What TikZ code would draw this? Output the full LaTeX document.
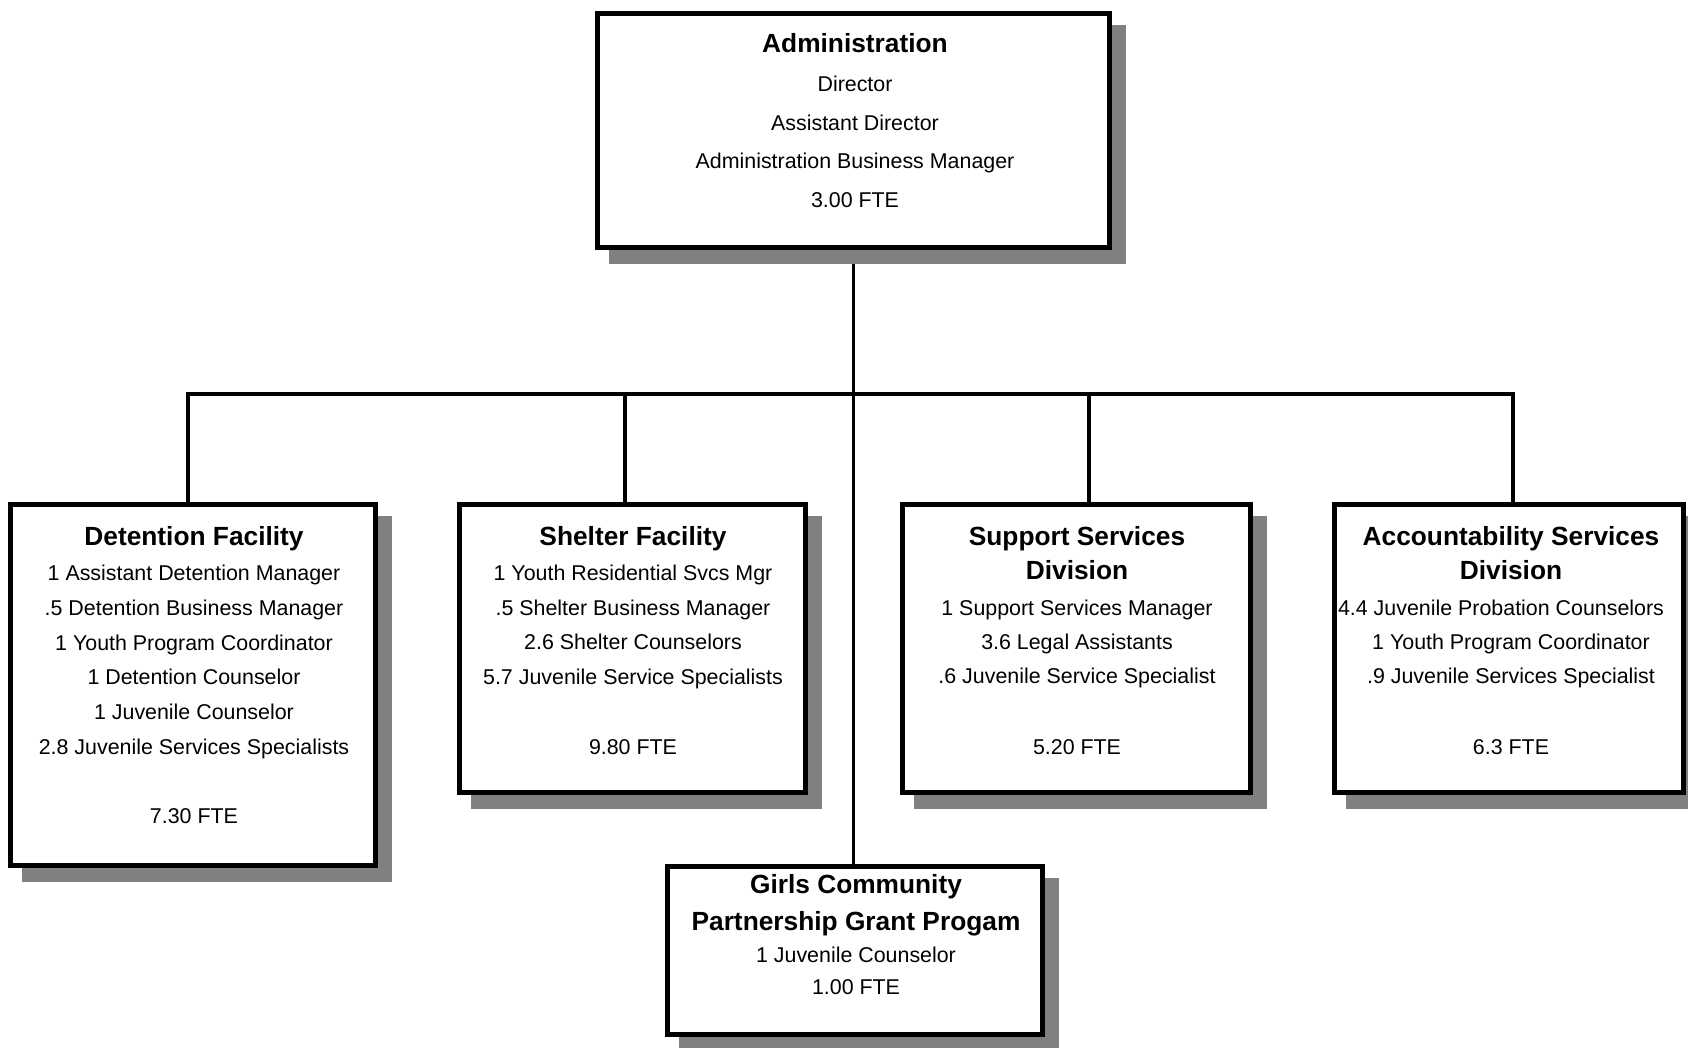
\documentclass[tikz,border=0pt]{standalone}
\usepackage{fontspec}
\setmainfont{Liberation Sans}
\definecolor{shadowgray}{HTML}{808080}
\pgfdeclarelayer{bg}
\pgfsetlayers{bg,main}
\tikzset{
  orgbox/.style={rectangle, draw=black, fill=white, line width=5pt, inner sep=0pt, outer sep=0pt},
  shadowbox/.style={fill=shadowgray, draw=shadowgray, line width=5pt},
  conn/.style={draw=black, line width=3.2pt},
  ttl/.style={font=\fontsize{26.3}{30}\selectfont\bfseries, anchor=base, inner sep=0pt},
  bdy/.style={font=\fontsize{21.4}{25}\selectfont, anchor=base, inner sep=0pt},
}
\begin{document}
\begin{tikzpicture}[x=1pt,y=-1pt]
\useasboundingbox (0,0) rectangle (1688,1047);

% boxes
\node[orgbox, minimum width=512pt, minimum height=234pt] (adm) at (853.5,130.5) {};
\node[orgbox, minimum width=365pt, minimum height=361pt] (det) at (193,685) {};
\node[orgbox, minimum width=346pt, minimum height=288pt] (shel) at (632.5,648.5) {};
\node[orgbox, minimum width=348pt, minimum height=288pt] (sup) at (1076.5,648.5) {};
\node[orgbox, minimum width=349pt, minimum height=288pt] (acc) at (1509,648.5) {};
\node[orgbox, minimum width=375pt, minimum height=168pt] (girls) at (855,950.5) {};

\begin{pgfonlayer}{bg}
  % connectors
  \coordinate (busL) at (188,394);
  \coordinate (busR) at (1513,394);
  \coordinate (jS) at (625,394);
  \coordinate (jP) at (1089,394);
  \draw[conn] (adm.south) -- (adm.south |- girls.north);
  \draw[conn, line join=miter] (busL |- det.north) -- (busL) -- (busR) -- (busR |- acc.north);
  \draw[conn] (jS) -- (jS |- shel.north);
  \draw[conn] (jP) -- (jP |- sup.north);
  % shadows
  \foreach \b in {adm,det,shel,sup,acc,girls}
    \path[shadowbox] ([shift={(14,14)}]\b.north west) rectangle ([shift={(14,14)}]\b.south east);
\end{pgfonlayer}

% Administration
\node[ttl] (adm-t) at (855,52.5) {Administration};
\node[bdy] (adm-1) at (855,91.7) {Director};
\node[bdy] (adm-2) at (855,130.7) {Assistant Director};
\node[bdy] (adm-3) at (855,168.7) {Administration Business Manager};
\node[bdy] (adm-4) at (855,207.7) {3.00 FTE};

% Detention
\node[ttl] (det-t) at (194,545.5) {Detention Facility};
\node[bdy] (det-1) at (194,580) {1 Assistant Detention Manager};
\node[bdy] (det-2) at (194,615) {.5 Detention Business Manager};
\node[bdy] (det-3) at (194,650) {1 Youth Program Coordinator};
\node[bdy] (det-4) at (194,684) {1 Detention Counselor};
\node[bdy] (det-5) at (194,719) {1 Juvenile Counselor};
\node[bdy] (det-6) at (194,754) {2.8 Juvenile Services Specialists};
\node[bdy] (det-7) at (194,823) {7.30 FTE};

% Shelter
\node[ttl] (shel-t) at (633,545.5) {Shelter Facility};
\node[bdy] (shel-1) at (633,580) {1 Youth Residential Svcs Mgr};
\node[bdy] (shel-2) at (633,615) {.5 Shelter Business Manager};
\node[bdy] (shel-3) at (633,649) {2.6 Shelter Counselors};
\node[bdy] (shel-4) at (633,684) {5.7 Juvenile Service Specialists};
\node[bdy] (shel-5) at (633,754) {9.80 FTE};

% Support
\node[ttl] (sup-t1) at (1077,545.5) {Support Services};
\node[ttl] (sup-t2) at (1077,579.5) {Division};
\node[bdy] (sup-1) at (1077,615) {1 Support Services Manager};
\node[bdy] (sup-2) at (1077,649) {3.6 Legal Assistants};
\node[bdy] (sup-3) at (1077,683) {.6 Juvenile Service Specialist};
\node[bdy] (sup-4) at (1077,754) {5.20 FTE};

% Accountability
\node[ttl] (acc-t1) at (1511,545.5) {Accountability Services};
\node[ttl] (acc-t2) at (1511,579.5) {Division};
\node[bdy] (acc-1) at (1501,615) {4.4 Juvenile Probation Counselors};
\node[bdy] (acc-2) at (1511,649) {1 Youth Program Coordinator};
\node[bdy] (acc-3) at (1511,683) {.9 Juvenile Services Specialist};
\node[bdy] (acc-4) at (1511,754) {6.3 FTE};

% Girls
\node[ttl] (girls-t1) at (856,893.8) {Girls Community};
\node[ttl] (girls-t2) at (856,930) {Partnership Grant Progam};
\node[bdy] (girls-1) at (856,962.3) {1 Juvenile Counselor};
\node[bdy] (girls-2) at (856,994.3) {1.00 FTE};
\end{tikzpicture}
\end{document}
